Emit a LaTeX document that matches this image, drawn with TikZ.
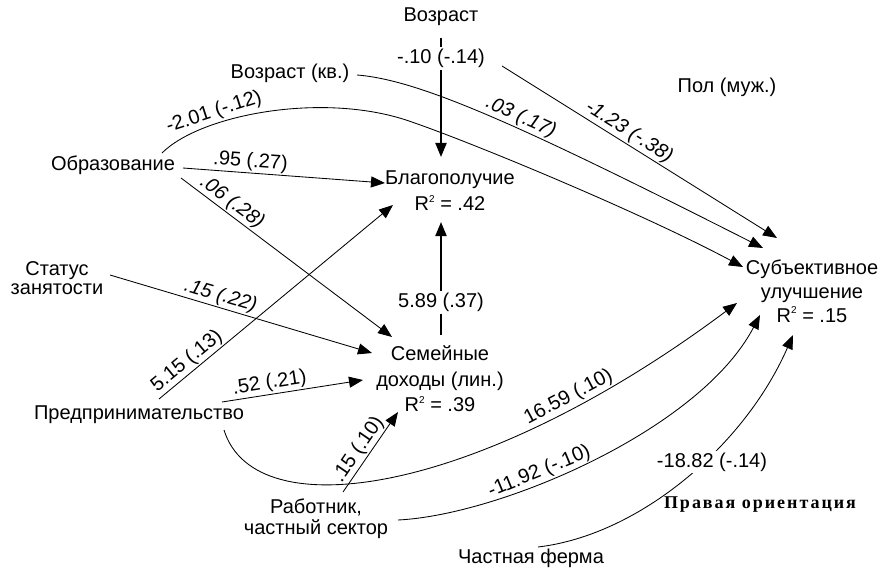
\documentclass[tikz,border=0pt]{standalone}
\usepackage{fontspec}
\setmainfont{Liberation Sans}
\newfontfamily\spacedserif[LetterSpace=11]{Liberation Serif}
\usetikzlibrary{arrows.meta}
\newcommand{\Rsq}{R\raisebox{0.8ex}{\fontsize{10}{10}\selectfont 2}}
\begin{document}
\begin{tikzpicture}[x=1pt,y=-1pt,
  txt/.style={inner sep=0pt,align=center,font=\fontsize{20}{23}\selectfont},
  lbl/.style={inner sep=1.5pt,font=\fontsize{20}{22}\selectfont},
  slbl/.style={lbl,sloped,above},
  islbl/.style={slbl,font=\itshape\fontsize{20}{22}\selectfont},
  wlbl/.style={lbl,fill=white,inner sep=2pt},
  thin/.style={line width=0.85pt,-{Triangle[length=14pt,width=11pt]}},
  thick/.style={line width=2pt,-{Triangle[length=14pt,width=11pt]}}]
\useasboundingbox (0,0) rectangle (885,572);
% nodes
\node[txt] (vozr) at (441,17) {Возраст};
\node[txt] (vozrkv) at (290,73) {Возраст (кв.)};
\node[txt] (pol) at (727,87) {Пол (муж.)};
\node[txt] (obr) at (113,165) {Образование};
\node[txt,font=\fontsize{20}{26}\selectfont] (blag) at (450,191) {Благополучие\\\Rsq{} = .42};
\node[txt,font=\fontsize{20}{19}\selectfont] (status) at (57,278) {Статус\\занятости};
\node[txt,font=\fontsize{20}{25.5}\selectfont] (semdoh) at (440,379) {Семейные\\доходы (лин.)\\\Rsq{} = .39};
\node[txt,font=\fontsize{20}{24}\selectfont] (sub) at (812,291) {Субъективное\\улучшение\\\Rsq{} = .15};
\node[txt] (pred) at (139,415) {Предпринимательство};
\node[txt,font=\fontsize{20}{21}\selectfont] (rab) at (316,519) {Работник,\\частный сектор};
\node[txt] (ferma) at (531,558) {Частная ферма};
\node[inner sep=0pt,font=\spacedserif\bfseries\fontsize{18}{20}\selectfont] (pravo) at (760,505) {Правая ориентация};
% endpoints
\coordinate (vozrS) at (441,38);
\coordinate (blagT) at (441,157);
\coordinate (blagB) at (441,222);
\coordinate (semT) at (441,335);
\coordinate (kvS) at (357,75);
\coordinate (subA) at (763,248);
\coordinate (polS) at (502,66);
\coordinate (subB) at (777,238);
\coordinate (obrS1) at (162,153);
\coordinate (subC) at (743,267);
\coordinate (obrS2) at (183,168);
\coordinate (blagL) at (385,183);
\coordinate (obrS3) at (181,178);
\coordinate (semA) at (392,337);
\coordinate (statS) at (110,275);
\coordinate (semB) at (372,353);
\coordinate (predS1) at (159,399);
\coordinate (blagC) at (393,205);
\coordinate (predS2) at (222,402);
\coordinate (semC) at (363,380);
\coordinate (predS3) at (224,430);
\coordinate (subD) at (737,303);
\coordinate (rabS1) at (343,492);
\coordinate (semD) at (398,412);
\coordinate (rabS2) at (398,520);
\coordinate (subE) at (760,315);
\coordinate (fermaS) at (538,547);
\coordinate (subF) at (793,335);
% connectors
\draw[thick] (vozrS) -- node[wlbl,pos=0.17] {-.10 (-.14)} (blagT);
\draw[thick] (semT) -- node[wlbl,pos=0.29] {5.89 (.37)} (blagB);
\draw[thin] (kvS) .. controls (420,80) and (520,125) .. (subA) node[islbl,pos=0.56] {.03 (.17)};
\draw[thin] (polS) -- node[islbl,pos=0.44] {-1.23 (-.38)} (subB);
\draw[thin] (obrS1) .. controls (200,115) and (320,92) .. (406,120) node[slbl,pos=0.31] {-2.01 (-.12)}
  .. controls (466,140) and (640,212) .. (subC);
\draw[thin] (obrS2) -- node[slbl,pos=0.33] {.95 (.27)} (blagL);
\draw[thin] (obrS3) -- node[islbl,pos=0.21] {.06 (.28)} (semA);
\draw[thin] (statS) -- node[islbl,pos=0.41] {.15 (.22)} (semB);
\draw[thin] (predS1) -- node[slbl,pos=0.15] {5.15 (.13)} (blagC);
\draw[thin] (predS2) -- node[slbl,pos=0.35] {.52 (.21)} (semC);
\draw[thin] (predS3) .. controls (255,530) and (480,495) .. (subD) node[slbl,pos=0.78] {16.59 (.10)};
\draw[thin] (rabS1) -- node[slbl,pos=0.45] {.15 (.10)} (semD);
\draw[thin] (rabS2) .. controls (500,515) and (700,430) .. (subE) node[slbl,pos=0.38] {-11.92 (-.10)};
\draw[thin] (fermaS) .. controls (640,535) and (745,445) .. (subF);
\node[wlbl] at (712,462) {-18.82 (-.14)};
\end{tikzpicture}
\end{document}
